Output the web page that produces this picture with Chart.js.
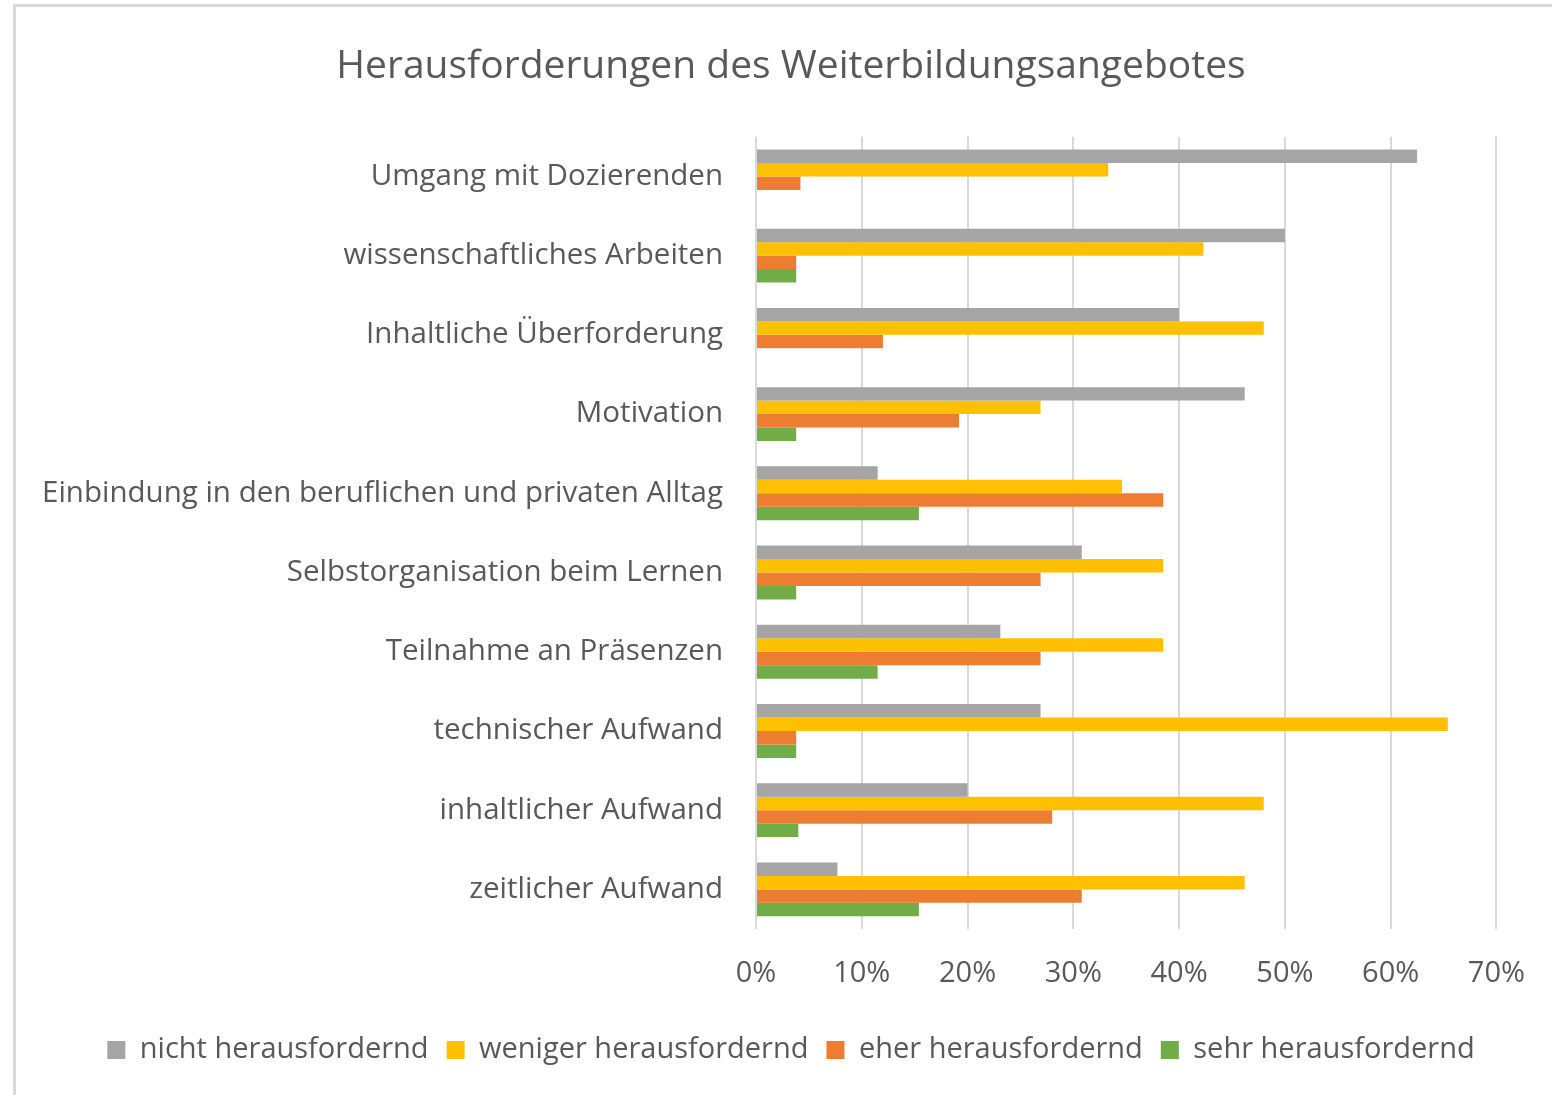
<!DOCTYPE html>
<html>
<head>
    <title>Herausforderungen des Weiterbildungsangebotes</title>
    <script src="https://cdn.jsdelivr.net/npm/chart.js"></script>
    <style>
        html, body { margin: 0; padding: 0; background: #fff; overflow: hidden; }
        #rahmen { position: absolute; left: 13px; top: 4px; width: 1600px; height: 1200px;
                  border-left: 3px solid #d9d9d9; border-top: 3px solid #d9d9d9; }
        #wrap { position: absolute; left: 0; top: 0; width: 1552px; height: 1095px; }
    </style>
</head>
<body>
    <div id="rahmen"></div>
    <div id="wrap"><canvas id="chart"></canvas></div>

    <script>
        // Kategorien (von oben nach unten)
        var kategorien = [
            'Umgang mit Dozierenden',
            'wissenschaftliches Arbeiten',
            'Inhaltliche Überforderung',
            'Motivation',
            'Einbindung in den beruflichen und privaten Alltag',
            'Selbstorganisation beim Lernen',
            'Teilnahme an Präsenzen',
            'technischer Aufwand',
            'inhaltlicher Aufwand',
            'zeitlicher Aufwand'
        ];

        // Werte in Prozent
        var nichtHeraus   = [62.5, 50.0, 40.0, 46.2, 11.5, 30.8, 23.1, 26.9, 20.0, 7.7];
        var wenigerHeraus = [33.3, 42.3, 48.0, 26.9, 34.6, 38.5, 38.5, 65.4, 48.0, 46.2];
        var eherHeraus    = [4.2, 3.8, 12.0, 19.2, 38.5, 26.9, 26.9, 3.8, 28.0, 30.8];
        var sehrHeraus    = [0, 3.8, 0, 3.8, 15.4, 3.8, 11.5, 3.8, 4.0, 15.4];

        var xTicks = [0, 10, 20, 30, 40, 50, 60, 70];

        var textFarbe = '#595959';
        var schrift = "'Open Sans', sans-serif";

        var ctx = document.getElementById('chart').getContext('2d');
        var chart = new Chart(ctx, {
            type: 'bar',
            data: {
                labels: kategorien,
                datasets: [
                    { label: 'nicht herausfordernd', data: nichtHeraus, backgroundColor: '#A5A5A5' },
                    { label: 'weniger herausfordernd', data: wenigerHeraus, backgroundColor: '#FFC000' },
                    { label: 'eher herausfordernd', data: eherHeraus, backgroundColor: '#ED7D31' },
                    { label: 'sehr herausfordernd', data: sehrHeraus, backgroundColor: '#70AD47' }
                ]
            },
            options: {
                indexAxis: 'y',
                responsive: true,
                maintainAspectRatio: false,
                animation: false,
                datasets: {
                    bar: { barPercentage: 1, categoryPercentage: 0.68 }
                },
                layout: { padding: { left: 30, right: 0, top: 0, bottom: 20.5 } },
                scales: {
                    x: {
                        min: 0,
                        max: 70,
                        afterBuildTicks: function (scale) {
                            scale.ticks = xTicks.map(function (v) { return { value: v }; });
                        },
                        afterFit: function (scale) { scale.height = 88.5; },
                        grid: { color: '#d9d9d9', lineWidth: 2, drawTicks: false },
                        border: { display: false },
                        ticks: {
                            color: textFarbe,
                            font: { family: schrift, size: 29 },
                            padding: 27,
                            callback: function (v) { return v + '%'; }
                        }
                    },
                    y: {
                        afterFit: function (scale) { scale.width = 756 - 30; },
                        grid: { display: false },
                        border: { display: false },
                        ticks: {
                            color: textFarbe,
                            font: { family: schrift, size: 29.5 },
                            padding: 25
                        }
                    },
                    // leere Achse rechts, nur als Abstand
                    yRechts: {
                        type: 'linear',
                        axis: 'y',
                        position: 'right',
                        afterFit: function (scale) { scale.width = 54; },
                        grid: { display: false },
                        border: { display: false },
                        ticks: { display: false }
                    }
                },
                plugins: {
                    title: {
                        display: true,
                        text: 'Herausforderungen des Weiterbildungsangebotes',
                        color: textFarbe,
                        font: { family: schrift, size: 39, weight: 'normal' },
                        padding: { top: 43, bottom: 47 }
                    },
                    legend: {
                        position: 'bottom',
                        labels: {
                            color: textFarbe,
                            font: { family: schrift, size: 29 },
                            boxWidth: 18,
                            boxHeight: 18,
                            padding: 18
                        }
                    },
                    tooltip: { enabled: false }
                }
            }
        });
    </script>
</body>
</html>
